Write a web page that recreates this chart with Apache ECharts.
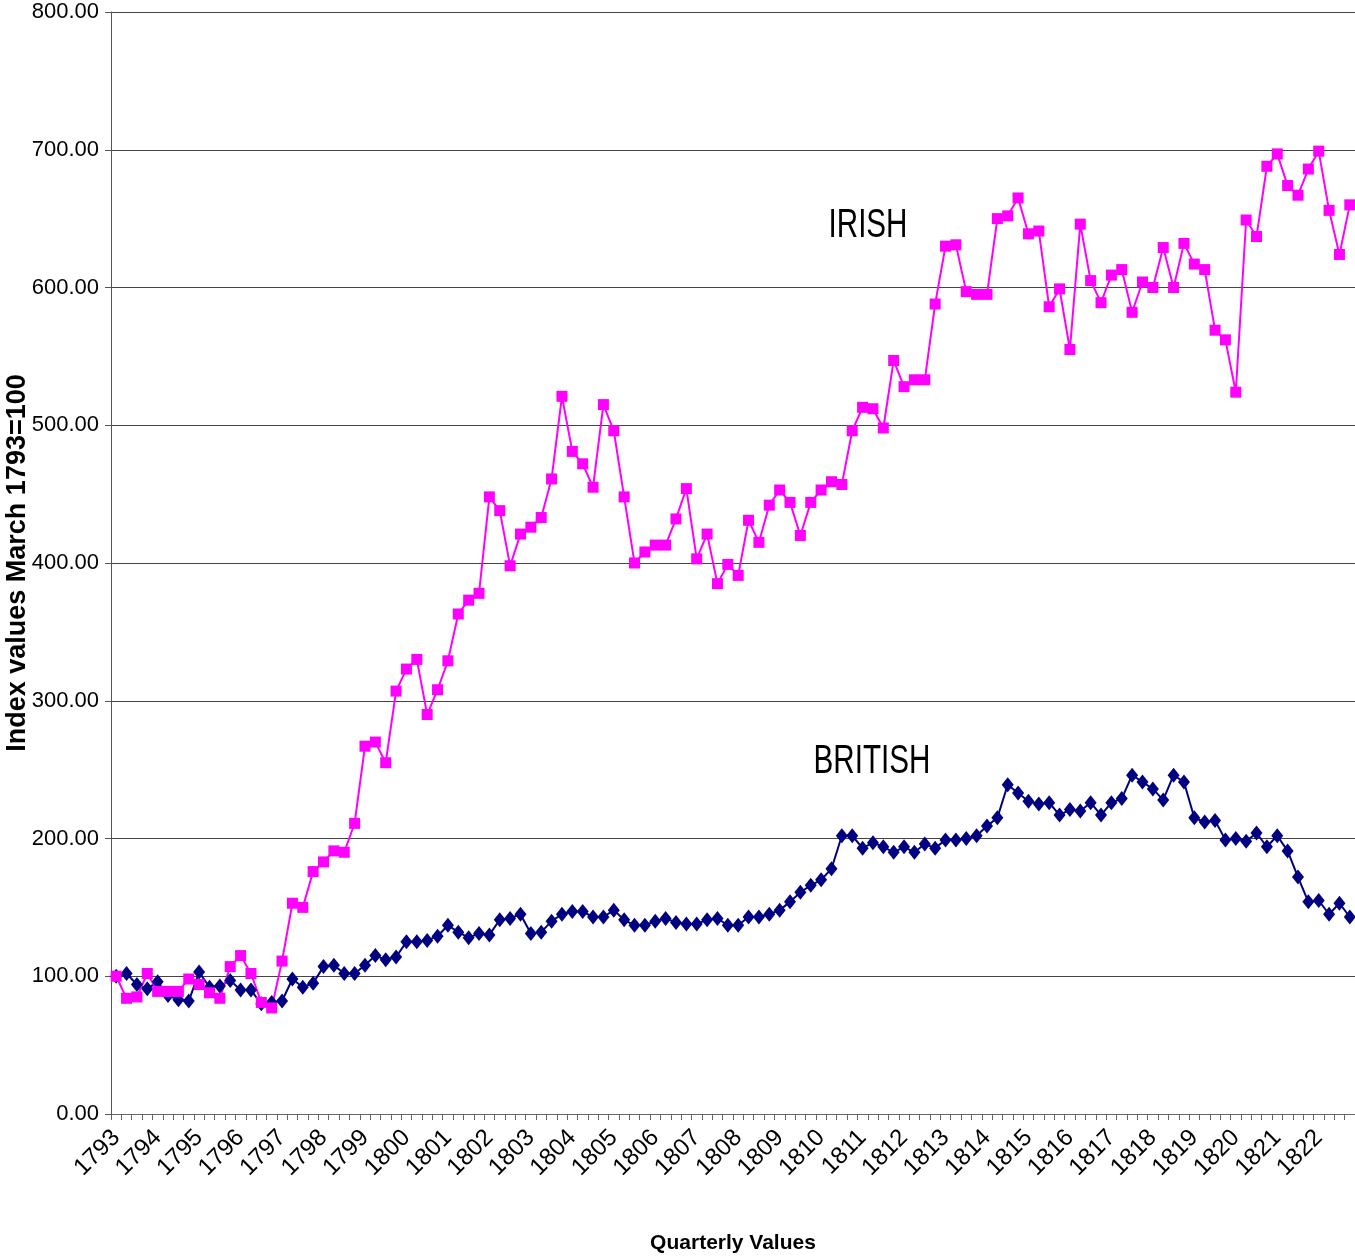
<!DOCTYPE html>
<html>
<head>
<meta charset="utf-8">
<title>Irish and British index values</title>
<script src="https://cdn.jsdelivr.net/npm/echarts@6/dist/echarts.min.js"></script>
<style>
  html, body { margin: 0; padding: 0; background: #fff; }
  #main { width: 1355px; height: 1259px; }
</style>
</head>
<body>
<div id="main"></div>
<script>
// years shown on the x axis, one label every four quarters
const years = [1793, 1794, 1795, 1796, 1797, 1798, 1799, 1800, 1801, 1802,
  1803, 1804, 1805, 1806, 1807, 1808, 1809, 1810, 1811, 1812,
  1813, 1814, 1815, 1816, 1817, 1818, 1819, 1820, 1821, 1822];
const quarters = ["Q1", "Q2", "Q3", "Q4"];

const yTicks = [0, 100, 200, 300, 400, 500, 600, 700, 800];

// quarterly index values, March 1793 = 100
const irish = [
  100, 84, 85, 102, 89, 89, 89, 98, 94, 88,
  84, 107, 115, 102, 81, 77, 111, 153, 150, 176,
  183, 191, 190, 211, 267, 270, 255, 307, 323, 330,
  290, 308, 329, 363, 373, 378, 448, 438, 398, 421,
  426, 433, 461, 521, 481, 472, 455, 515, 496, 448,
  400, 408, 413, 413, 432, 454, 403, 421, 385, 399,
  391, 431, 415, 442, 453, 444, 420, 444, 453, 459,
  457, 496, 513, 512, 498, 547, 528, 533, 533, 588,
  630, 631, 597, 595, 595, 650, 652, 665, 639, 641,
  586, 599, 555, 646, 605, 589, 609, 613, 582, 604,
  600, 629, 600, 632, 617, 613, 569, 562, 524, 649,
  637, 688, 697, 674, 667, 686, 699, 656, 624, 660
];

const british = [
  100, 102, 94, 91, 96, 86, 83, 82, 103, 92,
  93, 97, 90, 90, 80, 81, 82, 98, 92, 95,
  107, 108, 102, 102, 108, 115, 112, 114, 125, 125,
  126, 129, 137, 132, 128, 131, 130, 141, 142, 145,
  131, 132, 140, 145, 147, 147, 143, 143, 148, 141,
  137, 137, 140, 142, 139, 138, 138, 141, 142, 137,
  137, 143, 143, 145, 148, 154, 161, 166, 170, 178,
  202, 202, 193, 197, 194, 190, 194, 190, 196, 193,
  199, 199, 200, 202, 209, 215, 239, 233, 227, 225,
  226, 217, 221, 220, 226, 217, 226, 229, 246, 241,
  236, 228, 246, 241, 215, 212, 213, 199, 200, 198,
  204, 194, 202, 191, 172, 154, 155, 145, 153, 143
];

const categories = [];
years.forEach(y => quarters.forEach(q => categories.push(y + " " + q)));

const font = "Liberation Sans, Arial, sans-serif";

const myChart = echarts.init(document.getElementById("main"));
const option = {
  animation: false,
  backgroundColor: "#fff",
  grid: { left: 111, right: 0, top: 12, bottom: 145, containLabel: false, outerBoundsMode: "none" },
  xAxis: {
    type: "category",
    data: categories,
    boundaryGap: true,
    name: "Quarterly Values",
    nameLocation: "middle",
    nameGap: 119,
    nameMoveOverlap: false,
    nameTextStyle: { fontFamily: font, fontSize: 21, fontWeight: "bold", color: "#000" },
    axisLine: { lineStyle: { color: "#666", width: 1 } },
    axisTick: { show: true, interval: 0, length: 6, lineStyle: { color: "#666" } },
    axisLabel: {
      interval: 3,
      rotate: 45,
      margin: 20,
      fontFamily: font,
      fontSize: 24,
      color: "#000",
      formatter: v => v.slice(0, 4)
    },
    splitLine: { show: false }
  },
  yAxis: {
    type: "value",
    min: yTicks[0],
    max: yTicks[yTicks.length - 1],
    interval: 100,
    name: "Index values March 1793=100",
    nameLocation: "middle",
    nameGap: 80,
    nameMoveOverlap: false,
    nameTextStyle: { fontFamily: font, fontSize: 27, fontWeight: "bold", color: "#000" },
    axisLine: { show: true, lineStyle: { color: "#555", width: 1 } },
    axisTick: { show: true, length: 6, lineStyle: { color: "#555" } },
    axisLabel: {
      margin: 12,
      fontFamily: font,
      fontSize: 22,
      color: "#000",
      formatter: v => v.toFixed(2)
    },
    splitLine: { show: true, lineStyle: { color: "#444", width: 1 } }
  },
  series: [
    {
      name: "BRITISH",
      type: "line",
      data: british,
      symbol: "diamond",
      symbolSize: [12, 15],
      showAllSymbol: true,
      itemStyle: { color: "#000080" },
      lineStyle: { color: "#000080", width: 2 }
    },
    {
      name: "IRISH",
      type: "line",
      data: irish,
      symbol: "rect",
      symbolSize: 11,
      showAllSymbol: true,
      itemStyle: { color: "#ff00ff" },
      lineStyle: { color: "#ff00ff", width: 2 }
    }
  ],
  graphic: [
    {
      type: "text",
      x: 868, y: 226, scaleX: 0.74,
      style: { text: "IRISH", font: "40px " + font, fill: "#000", align: "center", verticalAlign: "middle" }
    },
    {
      type: "text",
      x: 872, y: 762, scaleX: 0.74,
      style: { text: "BRITISH", font: "40px " + font, fill: "#000", align: "center", verticalAlign: "middle" }
    }
  ]
};
myChart.setOption(option);
</script>
</body>
</html>
